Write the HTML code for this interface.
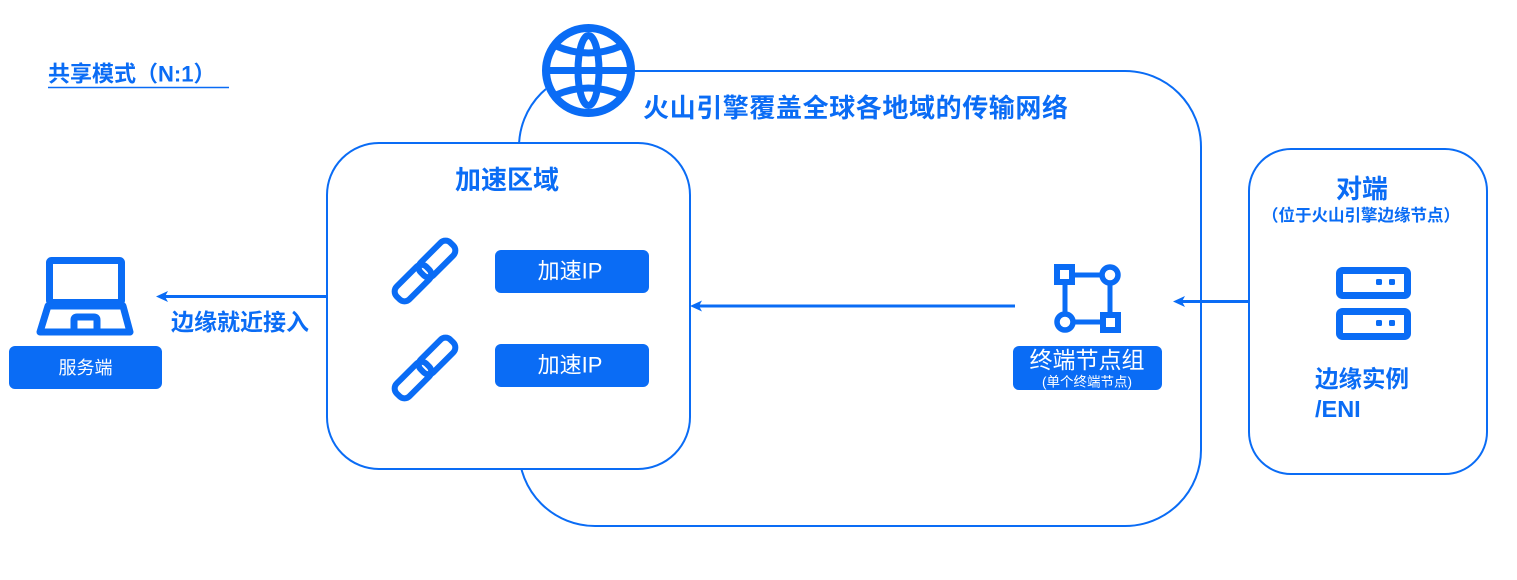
<!DOCTYPE html>
<html>
<head>
<meta charset="utf-8">
<style>
  html,body{margin:0;padding:0;background:#fff;}
  body{width:1517px;height:580px;overflow:hidden;}
  svg{display:block;}
  text{font-family:"Liberation Sans","Noto Sans CJK SC",sans-serif;}
</style>
</head>
<body>
<svg width="1517" height="580" viewBox="0 0 1517 580" xmlns="http://www.w3.org/2000/svg">
  <!-- Top-left title -->
  <text x="48" y="74" font-size="22" font-weight="bold" fill="#0a6cf5" dominant-baseline="central">共享模式（N:1）</text>
  <line x1="48" y1="87.5" x2="229" y2="87.5" stroke="#0a6cf5" stroke-width="1.5"/>

  <!-- Big network box -->
  <rect x="519" y="71" width="682" height="455" rx="76" ry="76" fill="#fff" stroke="#0a6cf5" stroke-width="2"/>

  <!-- Globe -->
  <circle cx="588.5" cy="70.5" r="46.5" fill="#fff"/>
  <g fill="none" stroke="#0a6cf5">
    <circle cx="588.5" cy="70.5" r="42.5" stroke-width="8"/>
    <ellipse cx="588.5" cy="70.5" rx="10.5" ry="35" stroke-width="7"/>
    <line x1="546" y1="70.5" x2="631" y2="70.5" stroke-width="7"/>
    <path d="M556,46 Q588.5,60 621,46" stroke-width="7"/>
    <path d="M556,95 Q588.5,81 621,95" stroke-width="7"/>
  </g>

  <text x="643" y="108" font-size="26" font-weight="bold" fill="#0a6cf5" letter-spacing="0.6" dominant-baseline="central">火山引擎覆盖全球各地域的传输网络</text>

  <!-- Acceleration region box -->
  <rect x="327" y="143" width="363" height="326" rx="52" ry="52" fill="#fff" stroke="#0a6cf5" stroke-width="2"/>
  <text x="507" y="180" font-size="26" font-weight="bold" fill="#0a6cf5" text-anchor="middle" dominant-baseline="central">加速区域</text>

  <!-- chain icons -->
  <g fill="none" stroke="#0a6cf5" stroke-width="6" stroke-linecap="round">
    <g transform="translate(425,271) rotate(-45)">
      <rect x="-4" y="-9" width="42" height="18" rx="7"/>
      <rect x="-38" y="-9" width="42" height="18" rx="7"/>
    </g>
    <g transform="translate(425,368) rotate(-45)">
      <rect x="-4" y="-9" width="42" height="18" rx="7"/>
      <rect x="-38" y="-9" width="42" height="18" rx="7"/>
    </g>
  </g>

  <!-- 加速IP buttons -->
  <rect x="495" y="250" width="154" height="43" rx="6" fill="#0a6cf5"/>
  <text x="570" y="271" font-size="22" fill="#fff" text-anchor="middle" dominant-baseline="central">加速IP</text>
  <rect x="495" y="344" width="154" height="43" rx="6" fill="#0a6cf5"/>
  <text x="570" y="365" font-size="22" fill="#fff" text-anchor="middle" dominant-baseline="central">加速IP</text>

  <!-- Laptop -->
  <g fill="none" stroke="#0a6cf5" stroke-width="7" stroke-linejoin="round">
    <rect x="49.5" y="260.5" width="72" height="42" rx="2"/>
    <path d="M48,306 L123,306 L130,332 L40,332 Z"/>
    <path d="M74,332 L74,320 Q74,317 77,317 L94,317 Q97,317 97,320 L97,332"/>
  </g>
  <rect x="9" y="346" width="153" height="43" rx="6" fill="#0a6cf5"/>
  <text x="85.5" y="368" font-size="18" fill="#fff" text-anchor="middle" dominant-baseline="central">服务端</text>

  <!-- Arrow to server -->
  <line x1="327" y1="296.5" x2="162" y2="296.5" stroke="#0a6cf5" stroke-width="3"/>
  <polygon points="156,296.5 168,291 165,296.5 168,302" fill="#0a6cf5"/>
  <text x="171" y="322" font-size="23" font-weight="bold" fill="#0a6cf5" dominant-baseline="central">边缘就近接入</text>

  <!-- Middle arrow -->
  <line x1="1015" y1="306" x2="696" y2="306" stroke="#0a6cf5" stroke-width="3"/>
  <polygon points="690,306 702,300.5 699,306 702,311.5" fill="#0a6cf5"/>

  <!-- Terminal node group icon -->
  <g fill="none" stroke="#0a6cf5">
    <line x1="1075" y1="275" x2="1102" y2="275" stroke-width="5"/>
    <line x1="1065" y1="285" x2="1065" y2="314" stroke-width="5"/>
    <line x1="1110" y1="283" x2="1110" y2="312" stroke-width="5"/>
    <line x1="1073" y1="322" x2="1100" y2="322" stroke-width="5"/>
    <rect x="1057" y="267" width="15" height="15" stroke-width="6"/>
    <rect x="1103" y="315" width="15" height="15" stroke-width="6"/>
    <circle cx="1110" cy="275" r="8" stroke-width="5.5"/>
    <circle cx="1065" cy="322" r="8" stroke-width="5.5"/>
  </g>
  <rect x="1013" y="346" width="149" height="44" rx="6" fill="#0a6cf5"/>
  <text x="1087" y="360" font-size="23" fill="#fff" text-anchor="middle" dominant-baseline="central">终端节点组</text>
  <text x="1087" y="382" font-size="13.5" fill="#fff" text-anchor="middle" dominant-baseline="central">(单个终端节点)</text>

  <!-- Right box -->
  <rect x="1249" y="149" width="238" height="325" rx="42" ry="42" fill="#fff" stroke="#0a6cf5" stroke-width="2"/>
  <text x="1362" y="189" font-size="26" font-weight="bold" fill="#0a6cf5" text-anchor="middle" dominant-baseline="central">对端</text>
  <text x="1361" y="216" font-size="16.5" font-weight="bold" fill="#0a6cf5" text-anchor="middle" dominant-baseline="central">（位于火山引擎边缘节点）</text>

  <!-- Right arrow -->
  <line x1="1248" y1="301.5" x2="1179" y2="301.5" stroke="#0a6cf5" stroke-width="3"/>
  <polygon points="1173,301.5 1185,296 1182,301.5 1185,307" fill="#0a6cf5"/>

  <!-- Server icon -->
  <g fill="none" stroke="#0a6cf5" stroke-width="7">
    <rect x="1339.5" y="270.5" width="68" height="25" rx="3"/>
    <rect x="1339.5" y="311.5" width="68" height="25" rx="3"/>
  </g>
  <g fill="#0a6cf5">
    <rect x="1376" y="279" width="6" height="6" rx="1.5"/>
    <rect x="1389" y="279" width="6" height="6" rx="1.5"/>
    <rect x="1376" y="320" width="6" height="6" rx="1.5"/>
    <rect x="1389" y="320" width="6" height="6" rx="1.5"/>
  </g>
  <text x="1315" y="379" font-size="23.5" font-weight="bold" fill="#0a6cf5" dominant-baseline="central">边缘实例</text>
  <text x="1315" y="409" font-size="23.5" font-weight="bold" fill="#0a6cf5" dominant-baseline="central">/ENI</text>
</svg>
</body>
</html>
